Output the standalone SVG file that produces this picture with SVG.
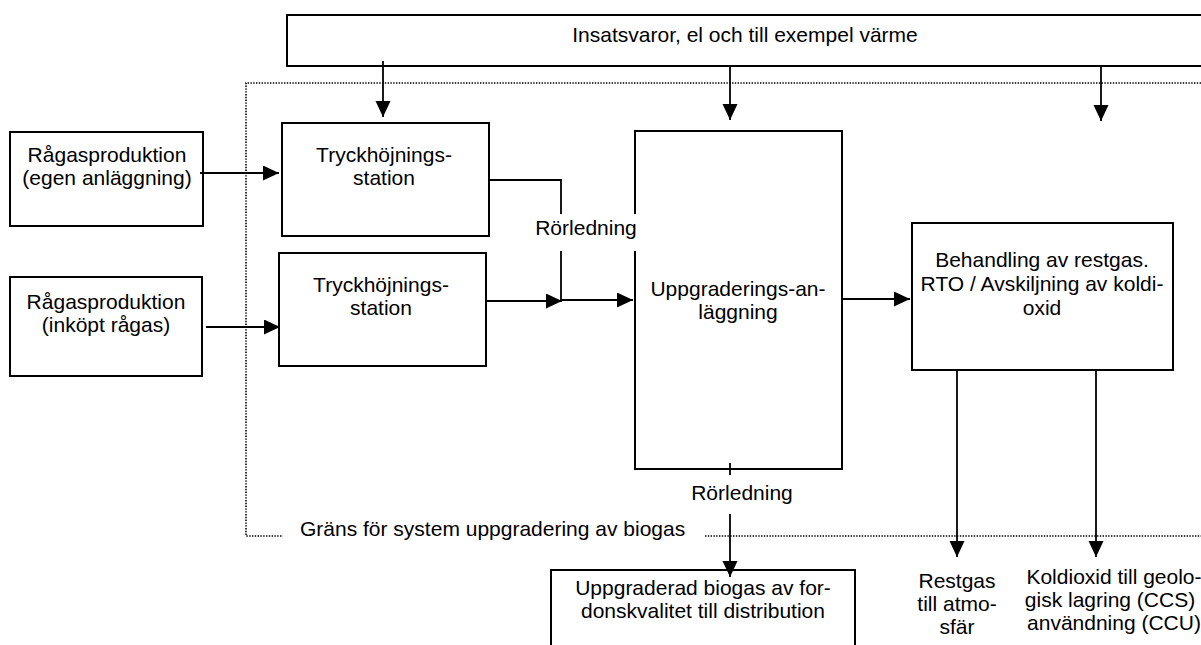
<svg xmlns="http://www.w3.org/2000/svg" width="1201" height="645" viewBox="0 0 1201 645">
  <style>
    .box { fill: #fff; stroke: #000; stroke-width: 2; }
    .ln { fill: none; stroke: #000; stroke-width: 1.8; }
    .arr { fill: none; stroke: #000; stroke-width: 1.8; marker-end: url(#ah); }
    .dot { fill: none; stroke: #000; stroke-width: 1.6; stroke-dasharray: 1.4 1.4; }
    text { font-family: "Liberation Sans", Arial, sans-serif; font-size: 21px; fill: #000; }
    .c { text-anchor: middle; }
  </style>
  <defs>
    <marker id="ah" markerUnits="userSpaceOnUse" markerWidth="17" markerHeight="16" refX="16" refY="7.5" orient="auto">
      <path d="M0,0 L16,7.5 L0,15 Z" fill="#000"/>
    </marker>
  </defs>

  <g id="boundary">
    <path class="dot" d="M1201,83 H246 V536 H283"/>
    <path class="dot" d="M705,536 H1201"/>
    <text x="300" y="536">Gräns för system uppgradering av biogas</text>
  </g>

  <g id="insatsvaror">
    <rect class="box" x="287" y="15" width="920" height="51"/>
    <text class="c" x="745" y="42">Insatsvaror, el och till exempel värme</text>
  </g>

  <g id="ragas1">
    <rect class="box" x="10" y="132" width="193" height="94"/>
    <text class="c" x="107" y="162">Rågasproduktion</text>
    <text class="c" x="107" y="185">(egen anläggning)</text>
  </g>

  <g id="ragas2">
    <rect class="box" x="10" y="277" width="192" height="99"/>
    <text class="c" x="106" y="309">Rågasproduktion</text>
    <text class="c" x="106" y="332">(inköpt rågas)</text>
  </g>

  <g id="tryck1">
    <rect class="box" x="282" y="123" width="207" height="113"/>
    <text class="c" x="384" y="162">Tryckhöjnings-</text>
    <text class="c" x="384" y="185">station</text>
  </g>

  <g id="tryck2">
    <rect class="box" x="279" y="253" width="207" height="113"/>
    <text class="c" x="381" y="292">Tryckhöjnings-</text>
    <text class="c" x="381" y="315">station</text>
  </g>

  <g id="uppgradering">
    <rect class="box" x="635" y="131" width="207" height="338"/>
    <text class="c" x="738" y="296">Uppgraderings-an-</text>
    <text class="c" x="738" y="319">läggning</text>
  </g>

  <g id="behandling">
    <rect class="box" x="912" y="223" width="261" height="147"/>
    <text class="c" x="1042" y="267">Behandling av restgas.</text>
    <text class="c" x="1042" y="291">RTO / Avskiljning av koldi-</text>
    <text class="c" x="1042" y="315">oxid</text>
  </g>

  <g id="biogas-ut">
    <rect class="box" x="551" y="570" width="304" height="90"/>
    <text class="c" x="703" y="595">Uppgraderad biogas av for-</text>
    <text class="c" x="703" y="618">donskvalitet till distribution</text>
  </g>

  <g id="restgas">
    <text class="c" x="957" y="588">Restgas</text>
    <text class="c" x="957" y="611">till atmo-</text>
    <text class="c" x="957" y="634">sfär</text>
  </g>

  <g id="koldioxid">
    <text class="c" x="1114" y="584">Koldioxid till geolo-</text>
    <text class="c" x="1110" y="607">gisk lagring (CCS)</text>
    <text class="c" x="1114" y="630">användning (CCU)</text>
  </g>

  <g id="connectors">
    <path class="arr" d="M383,61 V117"/>
    <path class="arr" d="M730,66 V120"/>
    <path class="arr" d="M1101,66 V121"/>
    <path class="arr" d="M200,173 H279"/>
    <path class="arr" d="M206,327 H280"/>
    <path class="ln" d="M489,180 H561 V300"/>
    <path class="arr" d="M487,301 H562"/>
    <path class="arr" d="M561,300 H633"/>
    <path class="arr" d="M842,299 H910"/>
    <path class="ln" d="M730,463 V475"/>
    <path class="arr" d="M730,514 V577"/>
    <path class="arr" d="M957,370 V557"/>
    <path class="arr" d="M1096,370 V557"/>
  </g>

  <g id="label-rorledning-1">
    <rect x="533" y="214" width="106" height="37" fill="#fff"/>
    <text class="c" x="586" y="235">Rörledning</text>
  </g>
  <g id="label-rorledning-2">
    <text class="c" x="742" y="500">Rörledning</text>
  </g>
</svg>
